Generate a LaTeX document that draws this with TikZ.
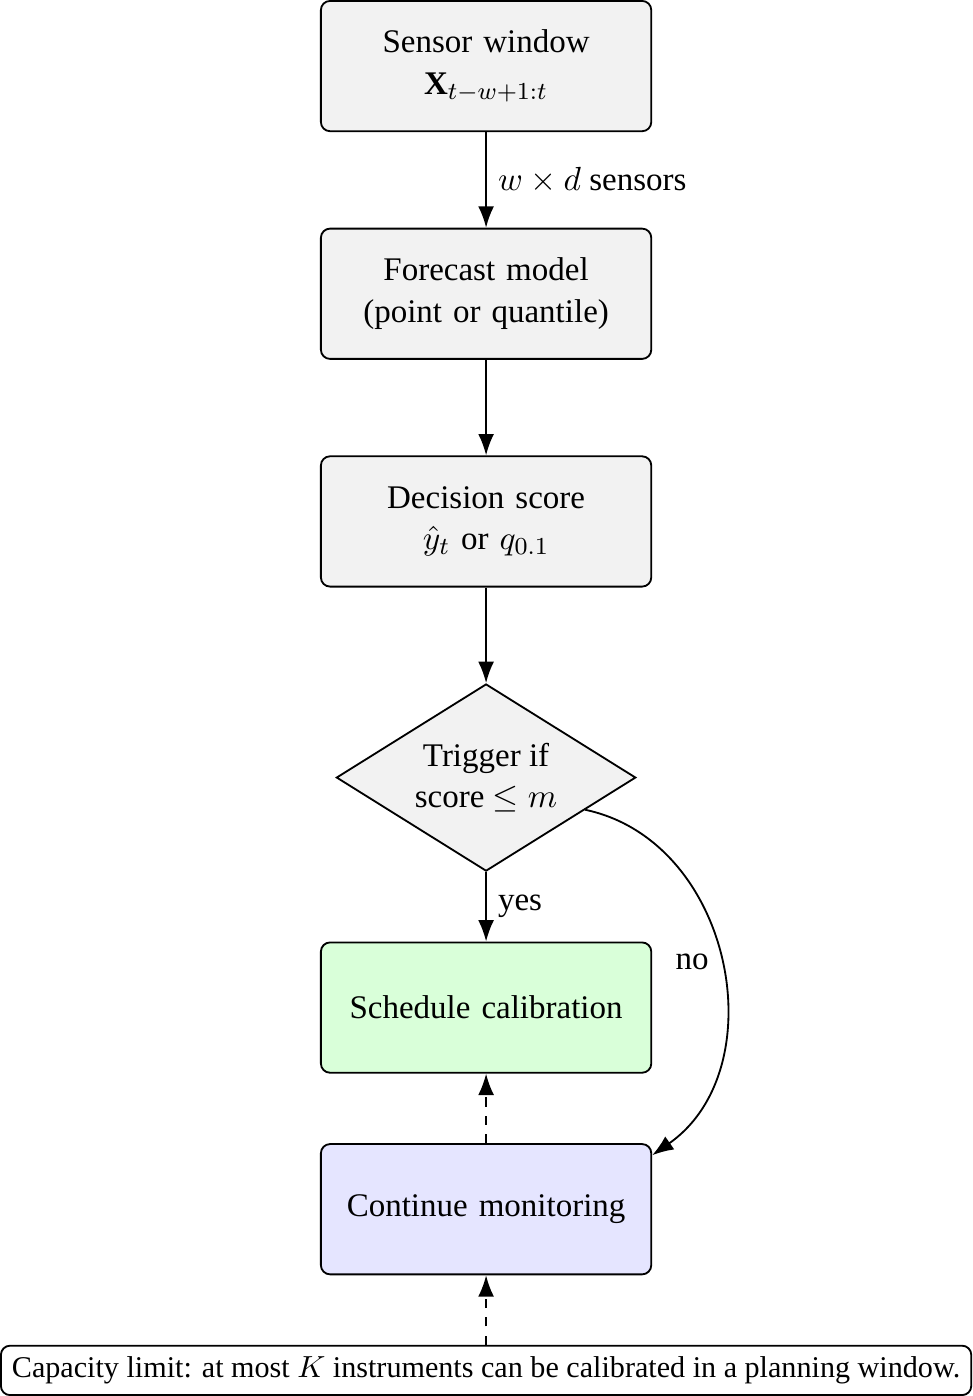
\documentclass[11pt,tikz,border=0pt]{standalone}
\usepackage{amsmath, amssymb}
\usepackage{fontspec}
\setmainfont[Scale=0.987]{Liberation Serif}
\usepackage{xcolor}
\usetikzlibrary{shapes.geometric}
\usetikzlibrary{positioning}
\usetikzlibrary{arrows.meta}

\tikzset{
	block/.style={rectangle, rounded corners=3pt, draw=black, fill=gray!10, text width=3.55cm, align=center, minimum height=1.5cm},
	decide/.style={diamond, aspect=1.6, draw=black, fill=gray!10, align=center, inner sep=2.9pt},
	note/.style={rectangle, rounded corners=3pt, draw=black, fill=white, font=\small},
}

\begin{document}
\begin{tikzpicture}[semithick, >={Latex[length=7pt, width=5.2pt]}]
		\node[block] (win) {Sensor window\\ $\mathbf{X}_{t-w+1:t}$};
		\node[block, below=1.1cm of win] (fc) {Forecast model\\ (point or quantile)};
		\node[block, below=1.1cm of fc] (sc) {Decision score\\ $\hat{y}_t$ or $q_{0.1}$};
		\node[decide, below=1.1cm of sc] (trig) {Trigger if\\ score $\leq m$};
		\node[block, fill=green!15, below=0.8cm of trig] (cal) {Schedule calibration};
		\node[block, fill=blue!10, below=0.8cm of cal] (mon) {Continue monitoring};
		\node[note, below=0.8cm of mon] (cap) {Capacity limit: at most $K$ instruments can be calibrated in a planning window.};
		
		\draw [->] (win) -- (fc) node [midway, right] {$w \times d$ sensors};
		\draw [->] (fc) -- (sc);
		\draw [->] (sc) -- (trig);
		\draw [->] (trig) -- (cal) node [midway, right] {yes};
		\draw [->] (trig.-18) to [out=-12, in=35, looseness=1.1] node [pos=0.5, left] {no} (mon.18);
		\draw [->, dashed] (mon) -- (cal);
		\draw [->, dashed] (cap) -- (mon);
	\end{tikzpicture}
\end{document}
